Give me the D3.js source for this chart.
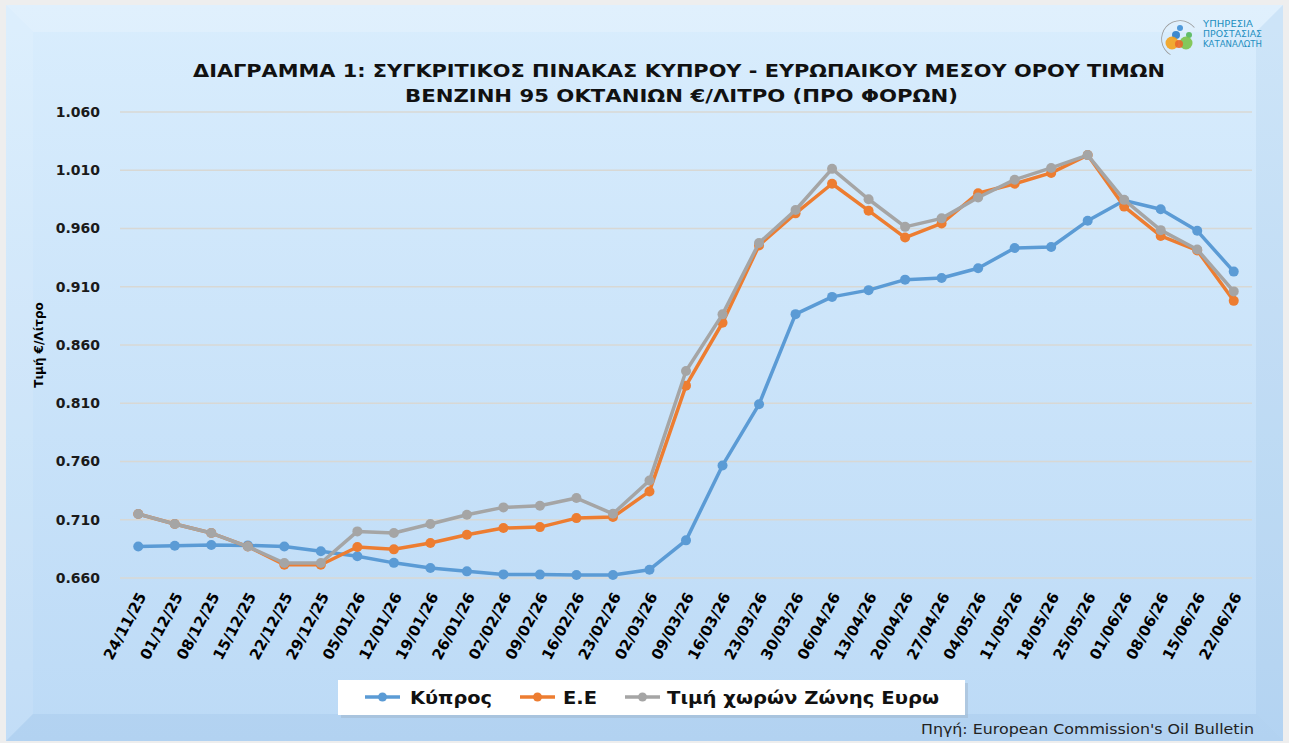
<!DOCTYPE html>
<html>
<head>
<meta charset="utf-8">
<script src="https://cdn.jsdelivr.net/npm/d3@7"></script>
<style>
  body { margin: 0; background: #ffffff; }
  svg { display: block; }
</style>
</head>
<body>
<svg id="chart" width="1289" height="743"></svg>
<script>
// weekly dates on the x axis
const dates = ["24/11/25", "01/12/25", "08/12/25", "15/12/25", "22/12/25", "29/12/25",
    "05/01/26", "12/01/26", "19/01/26", "26/01/26", "02/02/26", "09/02/26", "16/02/26",
    "23/02/26", "02/03/26", "09/03/26", "16/03/26", "23/03/26", "30/03/26", "06/04/26",
    "13/04/26", "20/04/26", "27/04/26", "04/05/26", "11/05/26", "18/05/26", "25/05/26",
    "01/06/26", "08/06/26", "15/06/26", "22/06/26"];

// price per litre before taxes
const cyprus = [0.687, 0.6877, 0.6883, 0.688, 0.687, 0.683, 0.6786, 0.673, 0.6686, 0.6657,
    0.6631, 0.6629, 0.6626, 0.6626, 0.6671, 0.6923, 0.7566, 0.8091, 0.8865, 0.9013,
    0.9071, 0.9161, 0.9175, 0.9259, 0.9432, 0.9441, 0.9666, 0.984, 0.9765, 0.958, 0.923];
const eu = [0.7149, 0.7063, 0.6986, 0.687, 0.6714, 0.6714, 0.6866, 0.6846, 0.690, 0.6971,
    0.7029, 0.7037, 0.7114, 0.7123, 0.7343, 0.8251, 0.8791, 0.9455, 0.973, 0.9984,
    0.9753, 0.9522, 0.9643, 0.9903, 0.9984, 1.0077, 1.023, 0.9788, 0.9536, 0.9412, 0.8979];
const euroZone = [0.7149, 0.7063, 0.6986, 0.687, 0.6729, 0.6729, 0.700, 0.6986, 0.7063, 0.7143,
    0.7206, 0.722, 0.7286, 0.7151, 0.7437, 0.8377, 0.8863, 0.9476, 0.9759, 1.0112,
    0.9851, 0.9614, 0.9687, 0.9866, 1.0019, 1.012, 1.023, 0.9846, 0.9586, 0.942, 0.906];

const seriesNames = ["Κύπρος", "Ε.Ε", "Τιμή χωρών Ζώνης Ευρω"];
const seriesColors = ["#5b9bd5", "#ed7d31", "#a5a5a5"];
const yTicks = [0.660, 0.710, 0.760, 0.810, 0.860, 0.910, 0.960, 1.010, 1.060];

const W = 1289, H = 743;
const plot = { left: 120, right: 1252, top: 112, bottom: 578 };
const svg = d3.select("#chart");

// ---- background frame with bevel ----
const defs = svg.append("defs");
const bg = defs.append("linearGradient").attr("id", "bg")
    .attr("x1", 0).attr("y1", 0).attr("x2", 0).attr("y2", 1);
bg.append("stop").attr("offset", "0%").attr("stop-color", "#d9edfd");
bg.append("stop").attr("offset", "100%").attr("stop-color", "#bcdaf6");

svg.append("rect").attr("width", W).attr("height", H).attr("fill", "#eeeeee");
svg.append("rect").attr("x", 6).attr("y", 5).attr("width", 1277).attr("height", 736)
    .attr("fill", "url(#bg)");

const bx0 = 6, by0 = 5, bx1 = 1283, by1 = 741, bw = 27;
// top bevel
svg.append("path")
    .attr("d", `M${bx0},${by0}L${bx1},${by0}L${bx1 - bw},${by0 + bw}L${bx0 + bw},${by0 + bw}Z`)
    .attr("fill", "#ffffff").attr("opacity", 0.2);
// left bevel
svg.append("path")
    .attr("d", `M${bx0},${by0}L${bx0 + bw},${by0 + bw}L${bx0 + bw},${by1 - bw}L${bx0},${by1}Z`)
    .attr("fill", "#ffffff").attr("opacity", 0.1);
// right bevel
svg.append("path")
    .attr("d", `M${bx1},${by0}L${bx1},${by1}L${bx1 - bw},${by1 - bw}L${bx1 - bw},${by0 + bw}Z`)
    .attr("fill", "#6f9fcc").attr("opacity", 0.1);
// bottom bevel
svg.append("path")
    .attr("d", `M${bx0},${by1}L${bx0 + bw},${by1 - bw}L${bx1 - bw},${by1 - bw}L${bx1},${by1}Z`)
    .attr("fill", "#6f9fcc").attr("opacity", 0.12);

// ---- scales ----
const x = d3.scalePoint().domain(dates).range([plot.left, plot.right]).padding(0.5);
const y = d3.scaleLinear().domain([0.660, 1.060]).range([plot.bottom, plot.top]);

// gridlines
svg.append("g")
    .selectAll("line")
    .data(yTicks)
    .enter().append("line")
    .attr("x1", plot.left).attr("x2", plot.right)
    .attr("y1", d => y(d)).attr("y2", d => y(d))
    .style("stroke", "#d8d8d4")
    .style("stroke-width", 1.5);

// y axis labels
const yAxis = svg.append("g")
    .attr("transform", "translate(" + (plot.left - 20) + ",0)")
    .call(d3.axisLeft(y).tickValues(yTicks).tickFormat(d3.format(".3f")).tickSize(0));
yAxis.select(".domain").remove();
yAxis.selectAll("text")
    .attr("x", 0)
    .style("font-family", "DejaVu Sans")
    .style("font-weight", "bold")
    .style("font-size", "14px")
    .style("fill", "#1a1a1a");

// x axis labels
const xAxis = svg.append("g")
    .attr("transform", "translate(0," + plot.bottom + ")")
    .call(d3.axisBottom(x).tickSize(0));
xAxis.select(".domain").remove();
xAxis.selectAll("text")
    .attr("x", 0).attr("y", 0).attr("dy", 0)
    .attr("text-anchor", "end")
    .attr("transform", "translate(8,18) rotate(-62)")
    .style("font-family", "DejaVu Sans")
    .style("font-weight", "bold")
    .style("font-size", "15px")
    .style("fill", "#000");

// y axis title
svg.append("text")
    .attr("transform", "translate(43,345) rotate(-90)")
    .attr("text-anchor", "middle")
    .style("font-family", "DejaVu Sans")
    .style("font-weight", "bold")
    .style("font-size", "12px")
    .text("Τιμή €/Λίτρο");

// ---- series ----
const allSeries = [cyprus, eu, euroZone];
const line = d3.line().x((d, i) => x(dates[i])).y(d => y(d));

allSeries.forEach((vals, k) => {
    const g = svg.append("g");
    g.append("path")
        .datum(vals)
        .attr("d", line)
        .style("fill", "none")
        .style("stroke", seriesColors[k])
        .style("stroke-width", 3.5)
        .style("stroke-linejoin", "round");
    g.selectAll("circle")
        .data(vals)
        .enter().append("circle")
        .attr("cx", (d, i) => x(dates[i]))
        .attr("cy", d => y(d))
        .attr("r", 5)
        .style("fill", seriesColors[k]);
});

// ---- title ----
const title = svg.append("g")
    .style("font-family", "DejaVu Sans")
    .style("font-weight", "bold")
    .style("font-size", "17px")
    .style("fill", "#111");
title.append("text")
    .attr("x", 193).attr("y", 77)
    .attr("textLength", 972).attr("lengthAdjust", "spacingAndGlyphs")
    .text("ΔΙΑΓΡΑΜΜΑ 1: ΣΥΓΚΡΙΤΙΚΟΣ ΠΙΝΑΚΑΣ ΚΥΠΡΟΥ - ΕΥΡΩΠΑΙΚΟΥ ΜΕΣΟΥ ΟΡΟΥ ΤΙΜΩΝ");
title.append("text")
    .attr("x", 405).attr("y", 102)
    .attr("textLength", 553).attr("lengthAdjust", "spacingAndGlyphs")
    .text("ΒΕΝΖΙΝΗ 95 ΟΚΤΑΝΙΩΝ €/ΛΙΤΡΟ (ΠΡΟ ΦΟΡΩΝ)");

// ---- legend ----
const legend = svg.append("g");
legend.append("rect")
    .attr("x", 341).attr("y", 683).attr("width", 627).attr("height", 35)
    .attr("fill", "#9fb6cc").attr("opacity", 0.5);
legend.append("rect")
    .attr("x", 338).attr("y", 680).attr("width", 627).attr("height", 35)
    .attr("fill", "#ffffff");
const legendItems = [
    { x: 365, textX: 410, len: 82 },
    { x: 520, textX: 563, len: 34 },
    { x: 625, textX: 667, len: 272 }
];
legendItems.forEach((it, k) => {
    legend.append("line")
        .attr("x1", it.x).attr("x2", it.x + 35)
        .attr("y1", 697).attr("y2", 697)
        .style("stroke", seriesColors[k]).style("stroke-width", 3.5);
    legend.append("circle")
        .attr("cx", it.x + 17.5).attr("cy", 697).attr("r", 4.5)
        .style("fill", seriesColors[k]);
    legend.append("text")
        .attr("x", it.textX).attr("y", 704)
        .attr("textLength", it.len).attr("lengthAdjust", "spacingAndGlyphs")
        .style("font-family", "DejaVu Sans")
        .style("font-weight", "bold")
        .style("font-size", "18px")
        .style("fill", "#111")
        .text(seriesNames[k]);
});

// source note
svg.append("text")
    .attr("x", 921).attr("y", 734)
    .attr("textLength", 333).attr("lengthAdjust", "spacingAndGlyphs")
    .style("font-family", "DejaVu Sans")
    .style("font-size", "14px")
    .style("fill", "#222")
    .text("Πηγή: European Commission's Oil Bulletin");

// ---- logo ----
const logo = svg.append("g");
logo.append("path")
    .attr("d", d3.arc()({ innerRadius: 18, outerRadius: 18.8, startAngle: -2.6, endAngle: 0.9 }))
    .attr("transform", "translate(1180,39)")
    .attr("fill", "#9a9a9a");
const dots = [
    { cx: 1180, cy: 28, r: 3, c: "#3f8fd6" },
    { cx: 1176, cy: 35, r: 4, c: "#2f7fc9" },
    { cx: 1189, cy: 35, r: 3, c: "#55b85a" },
    { cx: 1172, cy: 43, r: 6.5, c: "#f4a21c" },
    { cx: 1186, cy: 43, r: 6.5, c: "#7bc44a" },
    { cx: 1179, cy: 44, r: 4, c: "#e9682a" }
];
logo.selectAll("circle")
    .data(dots)
    .enter().append("circle")
    .attr("cx", d => d.cx).attr("cy", d => d.cy).attr("r", d => d.r)
    .style("fill", d => d.c).style("opacity", 0.9);
["ΥΠΗΡΕΣΙΑ", "ΠΡΟΣΤΑΣΙΑΣ", "ΚΑΤΑΝΑΛΩΤΗ"].forEach((t, i) => {
    logo.append("text")
        .attr("x", 1203).attr("y", 27 + i * 10)
        .attr("textLength", [50, 59, 59][i]).attr("lengthAdjust", "spacingAndGlyphs")
        .style("font-family", "DejaVu Sans")
        .style("font-size", "8.5px")
        .style("fill", "#1e8fc0")
        .text(t);
});
</script>
</body>
</html>
